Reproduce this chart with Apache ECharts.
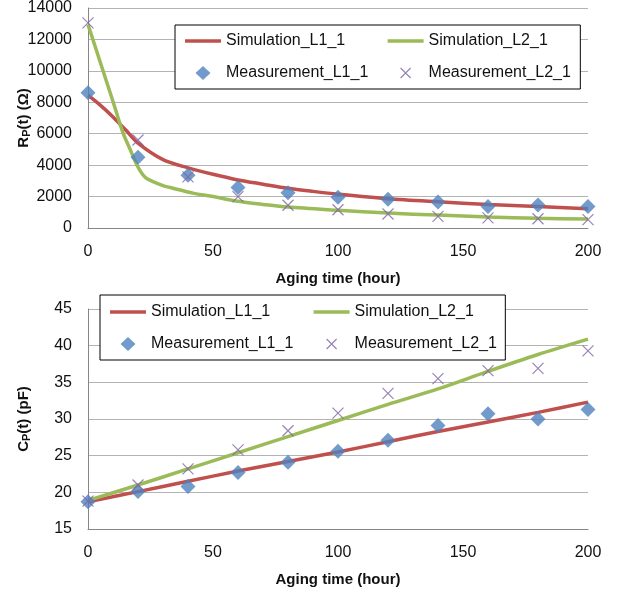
<!DOCTYPE html>
<html><head><meta charset="utf-8">
<script src="https://cdn.jsdelivr.net/npm/echarts@6/dist/echarts.min.js"></script>
<style>html,body{margin:0;padding:0;background:#fff}#c{width:622px;height:593px}</style>
</head><body><div id="c"></div>
<script>
// ---- data ----
const hours = [0, 20, 40, 60, 80, 100, 120, 140, 160, 180, 200];
// top chart: Rp(t)
const rpMeasL1 = [8600, 4500, 3350, 2580, 2250, 1950, 1830, 1660, 1370, 1470, 1370];
const rpMeasL2 = [13050, 5600, 3250, 2000, 1450, 1160, 890, 740, 640, 590, 530];
const rpSimL1Hours = [0, 5, 10, 15, 20, 30, 40, 50, 60, 70, 80, 90, 100, 120, 140, 160, 180, 200];
const rpSimL1 = [8450, 7800, 7070, 6250, 5400, 4350, 3830, 3420, 3060, 2790, 2530, 2330, 2150, 1855, 1665, 1500, 1370, 1220];
const rpSimL2Hours = [0, 5, 10, 14, 17, 19, 21, 23, 26, 30, 34, 42, 50, 60, 70, 80, 100, 120, 140, 160, 180, 200];
const rpSimL2 = [12950, 10500, 8050, 6050, 4950, 4200, 3600, 3200, 2950, 2700, 2530, 2220, 2000, 1700, 1500, 1330, 1130, 950, 820, 700, 620, 570];
// bottom chart: Cp(t)
const cpMeasL1 = [18.7, 20.1, 20.8, 22.7, 24.1, 25.6, 27.1, 29.1, 30.7, 30.0, 31.3];
const cpMeasL2 = [18.8, 21.0, 23.2, 25.8, 28.4, 30.8, 33.5, 35.5, 36.6, 36.9, 39.3];
const cpSimL1 = [18.7, 20.1, 21.5, 22.9, 24.2, 25.5, 26.9, 28.3, 29.6, 30.9, 32.3];
const cpSimL2 = [18.9, 21.0, 23.2, 25.4, 27.6, 29.8, 32.0, 34.1, 36.5, 38.8, 40.9];
const xTicks = {min: 0, max: 200, interval: 50};
const rpTicks = {min: 0, max: 14000, interval: 2000};
const cpTicks = {min: 15, max: 45, interval: 5};
const names = ['Simulation_L1_1', 'Simulation_L2_1', 'Measurement_L1_1', 'Measurement_L2_1'];
const xTitle = 'Aging time (hour)';

// ---- styles ----
const FONT = 'Liberation Sans';
const RED = '#C0504D', GREEN = '#9BBB59', BLUE = '#4F81BD', PURPLE = '#8064A2';
const pairs = (xs, ys) => xs.map((x, i) => [x, ys[i]]);
const XSYM = 'path://M0,0L10,10M10,0L0,10';
// legend icons drawn in a 36x14 box
const ICON_LINE = 'path://M0,0M0,5.25L36,5.25L36,8.75L0,8.75Z M36,14';
const ICON_DIAMOND = 'path://M0,0M18,0L25.5,7L18,14L10.5,7Z M36,14';
const ICON_X = 'path://M0,0M13,2L23,12M23,2L13,12M36,14';

function xAxis(g) {
  return {
    type: 'value', gridIndex: g, min: xTicks.min, max: xTicks.max, interval: xTicks.interval,
    axisLine: {show: true, onZero: false, lineStyle: {color: '#868686', width: 1}},
    axisTick: {show: false}, splitLine: {show: false},
    axisLabel: {margin: 16, fontSize: 16, fontFamily: FONT, color: '#111'},
    name: xTitle, nameLocation: 'middle', nameGap: 43, nameMoveOverlap: false,
    nameTextStyle: {fontSize: 15, fontWeight: 'bold', fontFamily: FONT, color: '#111'}
  };
}
function yAxis(g, t, nm) {
  return {
    type: 'value', gridIndex: g, min: t.min, max: t.max, interval: t.interval,
    axisLine: {show: true, lineStyle: {color: '#868686', width: 1}},
    axisTick: {show: false},
    splitLine: {show: true, lineStyle: {color: '#b3b3b3', width: 1}},
    axisLabel: {margin: 16, fontSize: 16, fontFamily: FONT, color: '#111', formatter: v => String(v)},
    name: nm, nameLocation: 'middle', nameRotate: 90, nameGap: 55, nameMoveOverlap: false,
    nameTextStyle: {
      fontFamily: FONT, color: '#111',
      rich: {
        a: {fontSize: 15, fontWeight: 'bold', fontFamily: FONT, color: '#111', lineHeight: 18},
        b: {fontSize: 11, fontWeight: 'bold', fontFamily: FONT, color: '#111', lineHeight: 18, verticalAlign: 'bottom', padding: [0, 0, 1, 0]}
      }
    }
  };
}
function legendItems(simName, measName, simColor, measIsX) {
  return [
    {name: simName, icon: ICON_LINE, itemStyle: {color: simColor, borderWidth: 0}},
    measIsX
      ? {name: measName, icon: ICON_X, itemStyle: {color: 'transparent', borderColor: PURPLE, borderWidth: 1.2}}
      : {name: measName, icon: ICON_DIAMOND, itemStyle: {color: BLUE, borderWidth: 0}}
  ];
}
function legend(left, top, data, boxed, padTop) {
  const l = {
    left: left, top: top, orient: 'vertical', data: data,
    itemWidth: 36, itemHeight: 14, itemGap: 16,
    textStyle: {fontSize: 16, fontFamily: FONT, color: '#111'},
    selectedMode: false
  };
  if (boxed) {
    l.padding = [padTop, 212, 8, 10];
    l.borderColor = '#000'; l.borderWidth = 1; l.backgroundColor = '#fff'; l.z = 5;
  } else {
    l.padding = [padTop, 0, 8, 0]; l.z = 6;
  }
  return l;
}
function simLine(name, xs, ys, g, color) {
  return {
    name: name, type: 'line', xAxisIndex: g, yAxisIndex: g, data: pairs(xs, ys),
    symbol: 'none', smooth: 0.3, lineStyle: {color: color, width: 3.5}, itemStyle: {color: color}, z: 2
  };
}
function measL1(g, ys) {
  return {name: names[2], type: 'scatter', xAxisIndex: g, yAxisIndex: g, data: pairs(hours, ys),
    symbol: 'diamond', symbolSize: 15, itemStyle: {color: BLUE}, z: 3};
}
function measL2(g, ys) {
  return {name: names[3], type: 'scatter', xAxisIndex: g, yAxisIndex: g, data: pairs(hours, ys),
    symbol: XSYM, symbolSize: 11, itemStyle: {color: 'transparent', borderColor: PURPLE, borderWidth: 1.2}, z: 4};
}

const option = {
  animation: false,
  backgroundColor: '#fff',
  grid: [
    {left: 88, top: 8, width: 500, height: 220, containLabel: false, outerBoundsMode: 'none'},
    {left: 88, top: 309, width: 500, height: 220, containLabel: false, outerBoundsMode: 'none'}
  ],
  xAxis: [xAxis(0), xAxis(1)],
  yAxis: [
    yAxis(0, rpTicks, '{a|R}{b|P}{a|(t) (Ω)}'),
    yAxis(1, cpTicks, '{a|C}{b|P}{a|(t) (pF)}')
  ],
  legend: [
    legend(175, 25, legendItems(names[0], names[2], RED, false), true, 8),
    legend(387, 25, legendItems(names[1], names[3], GREEN, true), false, 8),
    legend(100, 295, legendItems(names[0], names[2], RED, false), true, 9),
    legend(313, 295, legendItems(names[1], names[3], GREEN, true), false, 9)
  ],
  series: [
    simLine(names[0], rpSimL1Hours, rpSimL1, 0, RED),
    simLine(names[1], rpSimL2Hours, rpSimL2, 0, GREEN),
    measL1(0, rpMeasL1),
    measL2(0, rpMeasL2),
    simLine(names[0], hours, cpSimL1, 1, RED),
    simLine(names[1], hours, cpSimL2, 1, GREEN),
    measL1(1, cpMeasL1),
    measL2(1, cpMeasL2)
  ]
};
const chart = echarts.init(document.getElementById('c'), null, {renderer: 'canvas'});
chart.setOption(option);
</script></body></html>
